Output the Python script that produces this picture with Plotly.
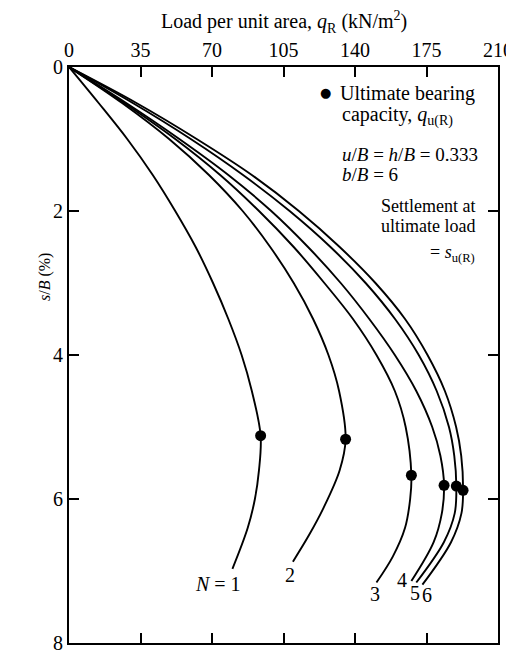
import plotly.graph_objects as go

# ---- data ----
s_n1 = [0, 0.5, 1.0, 1.5, 2.0, 2.5, 3.0, 3.5, 4.0, 4.5, 5.12, 5.6, 6.0, 6.4, 6.97]
q_n1 = [0, 14.5, 28.5, 41, 52, 62, 70.5, 78, 84.5, 89.5, 93.8, 93.0, 91.0, 87.5, 80.0]

s_n2 = [0, 0.5, 1.0, 1.5, 2.0, 2.5, 3.0, 3.5, 4.0, 4.5, 5.17, 5.6, 6.14, 6.5, 6.87]
q_n2 = [0, 26, 49, 68.5, 85, 98.5, 110, 119.5, 127, 132.2, 135.4, 132.5, 124.3, 117.5, 109.6]

s_n3 = [0, 0.5, 1.0, 1.5, 2.0, 2.5, 3.0, 3.5, 4.0, 4.5, 5.0, 5.67, 6.0, 6.4, 6.8, 7.16]
q_n3 = [0, 27, 52, 74, 93, 110, 125, 139, 150.5, 159.5, 164.8, 167.6, 167.0, 164.5, 158.5, 150.5]

s_n4 = [0, 0.5, 1.0, 1.5, 2.0, 2.5, 3.0, 3.5, 4.0, 4.5, 5.0, 5.4, 5.81, 6.2, 6.6, 7.14]
q_n4 = [0, 28, 54, 78, 99, 117, 133, 147, 159.5, 170, 177.8, 181.8, 183.6, 182.5, 178.5, 167.6]

s_n5 = [0, 0.5, 1.0, 1.5, 2.0, 2.5, 3.0, 3.5, 4.0, 4.5, 5.0, 5.4, 5.82, 6.2, 6.6, 7.16]
q_n5 = [0, 31.2, 59.6, 85.2, 108, 128, 145.2, 159.6, 171.2, 180, 186, 188.6, 189.6, 188.8, 183.5, 170.0]

s_n6 = [0, 0.5, 1.0, 1.5, 2.0, 2.5, 3.0, 3.5, 4.0, 4.5, 5.0, 5.4, 5.88, 6.2, 6.6, 7.19]
q_n6 = [0, 33, 62.5, 89.5, 112.5, 132.5, 150, 164.5, 175.5, 184, 189.5, 192, 192.9, 192.1, 187, 173.0]

# ultimate bearing capacity points (q_u(R), s_u(R)/B)
q_ult = [93.8, 135.4, 167.6, 183.6, 189.6, 192.9]
s_ult = [5.12, 5.17, 5.67, 5.81, 5.82, 5.88]

x_ticks = [0, 35, 70, 105, 140, 175, 210]
y_ticks = [0, 2, 4, 6, 8]

curve_labels = ["<i>N</i> = 1", "2", "3", "4", "5", "6"]
label_q = [72.8, 108, 149.6, 162.8, 169.2, 175]
label_s = [7.18, 7.05, 7.32, 7.13, 7.30, 7.33]

FONT = "Liberation Serif"

fig = go.Figure()
for s, q in [(s_n1, q_n1), (s_n2, q_n2), (s_n3, q_n3), (s_n4, q_n4), (s_n5, q_n5), (s_n6, q_n6)]:
    fig.add_trace(go.Scatter(x=q, y=s, mode="lines",
                             line=dict(color="black", width=1.9, shape="spline", smoothing=1.0),
                             showlegend=False, hoverinfo="skip"))

fig.add_trace(go.Scatter(x=q_ult, y=s_ult, mode="markers",
                         marker=dict(color="black", size=11),
                         showlegend=False, hoverinfo="skip"))

for txt, qx, sy in zip(curve_labels, label_q, label_s):
    fig.add_annotation(x=qx, y=sy, text=txt, showarrow=False,
                       font=dict(family=FONT, size=20, color="black"))

# text block at upper right
fig.add_annotation(x=125.6, y=0.36, text="\u25CF", showarrow=False,
                   font=dict(family="DejaVu Sans", size=13, color="black"))
ann = [
    ("Ultimate bearing", 199.6, 0.367, "right", 20),
    ("capacity, <i>q</i><sub>u(R)</sub>", 132.5, 0.675, "left", 20),
    ("<i>u</i>/<i>B</i> = <i>h</i>/<i>B</i> = 0.333", 132.5, 1.22, "left", 19),
    ("<i>b</i>/<i>B</i> = 6", 132.5, 1.49, "left", 19),
    ("Settlement at", 199.6, 1.93, "right", 18),
    ("ultimate load", 199.6, 2.21, "right", 18),
    ("= <i>s</i><sub>u(R)</sub>", 199.6, 2.59, "right", 18),
]
for txt, qx, sy, anc, fs in ann:
    fig.add_annotation(x=qx, y=sy, text=txt, showarrow=False, xanchor=anc,
                       font=dict(family=FONT, size=fs, color="black"))

# axis titles
fig.add_annotation(xref="paper", yref="paper", x=0.5, y=1.0, yshift=45, yanchor="middle",
                   text="Load per unit area, <i>q</i><sub>R</sub> (kN/m<sup>2</sup>)",
                   showarrow=False, font=dict(family=FONT, size=20, color="black"))
fig.add_annotation(xref="paper", yref="paper", x=-0.082, y=0.635, textangle=-90,
                   text="<i>s</i>/<i>B</i> (%)", showarrow=False,
                   font=dict(family=FONT, size=16, color="black"))

axis_common = dict(showgrid=False, zeroline=False, showline=True, linecolor="black",
                   linewidth=2, mirror="ticks", ticks="inside", ticklen=10,
                   tickwidth=1.5, tickcolor="black", automargin=False,
                   tickfont=dict(family=FONT, size=20, color="black"))

fig.update_xaxes(range=[0, 210], tickvals=x_ticks, side="top", **axis_common)
fig.update_yaxes(range=[8, 0], tickvals=y_ticks, **axis_common)

# page body has an 8px default margin: size the figure so the plot lands where the reference has it
fig.update_layout(width=506, height=652, plot_bgcolor="white", paper_bgcolor="white",
                  margin=dict(l=61, r=16, t=59, b=17), showlegend=False)

fig.write_html("out.html")
